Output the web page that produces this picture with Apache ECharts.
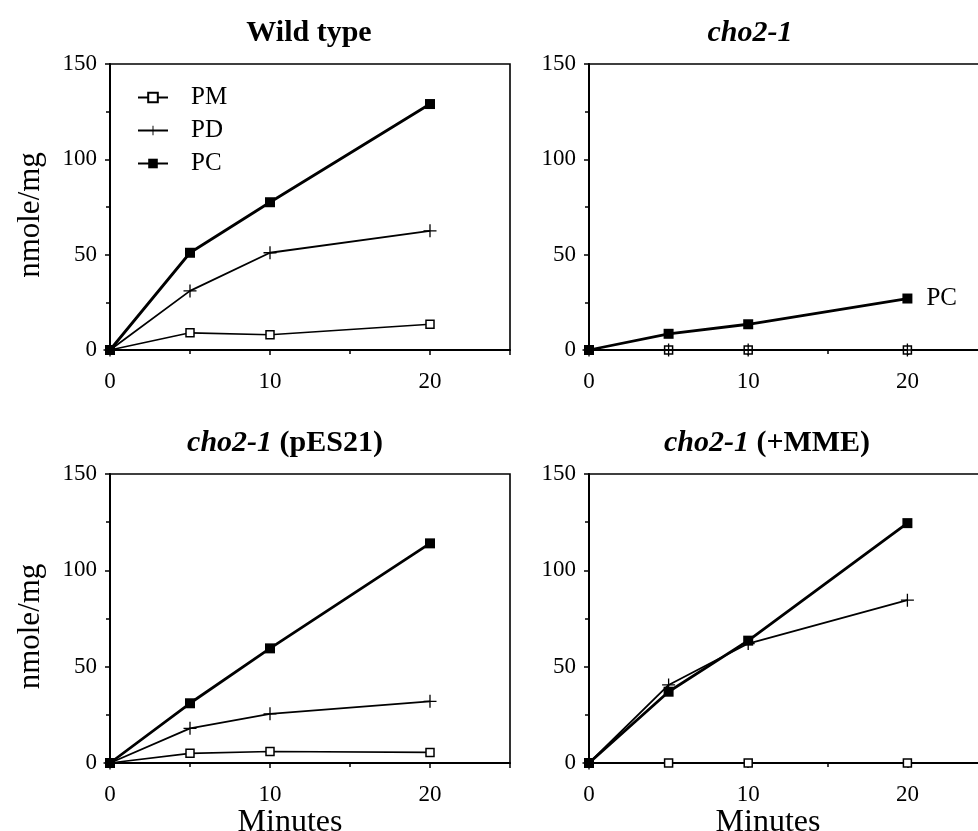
<!DOCTYPE html>
<html><head><meta charset="utf-8">
<script src="https://cdn.jsdelivr.net/npm/echarts@6/dist/echarts.min.js"></script>
<style>html,body{margin:0;padding:0;background:#fff}#c{width:978px;height:831px}</style>
</head><body><div id="c"></div>
<script>
const minutes = [0, 5, 10, 20];
const xTicks = [0, 10, 20];
const yTicks = [0, 50, 100, 150];
const seriesNames = ['PM', 'PD', 'PC'];
const panelTitles = ['Wild type', 'cho2-1', 'cho2-1 (pES21)', 'cho2-1 (+MME)'];

const wtPM = [0, 9, 8, 13.5];
const wtPD = [0, 31, 51, 62.5];
const wtPC = [0, 51, 77.5, 129];

const choPM = [0, 0, 0, 0];
const choPD = [0, 0, 0, 0];
const choPC = [0, 8.5, 13.5, 27];

const pesPM = [0, 5, 6, 5.5];
const pesPD = [0, 18, 25.5, 32];
const pesPC = [0, 31, 59.5, 114];

const mmePM = [0, 0, 0, 0];
const mmePD = [0, 40.5, 62, 84.5];
const mmePC = [0, 37, 63.5, 124.5];

const panels = [
  [wtPM, wtPD, wtPC],
  [choPM, choPD, choPC],
  [pesPM, pesPD, pesPC],
  [mmePM, mmePD, mmePC]
];

const FONT = '"Liberation Serif", "Times New Roman", serif';
const plusPath = 'path://M9,0H11V9H20V11H11V20H9V11H0V9H9Z';

const grids = [
  {left: 110, top: 64, width: 400, height: 286},
  {left: 589, top: 64, width: 398, height: 286},
  {left: 110, top: 474, width: 400, height: 289},
  {left: 589, top: 474, width: 398, height: 289}
].map(g => Object.assign(g, {show: true, borderColor: '#000', borderWidth: 1.6, backgroundColor: 'transparent',
  containLabel: false, outerBoundsMode: 'none'}));

const xAxes = grids.map((g, i) => ({
  type: 'value', gridIndex: i, min: 0, max: 25, interval: 10,
  axisLine: {show: true, onZero: false, lineStyle: {color: '#000', width: 2}},
  axisTick: {show: true, length: 5, lineStyle: {color: '#000', width: 1.5}},
  minorTick: {show: true, splitNumber: 2, length: 4, lineStyle: {color: '#000', width: 1.5}},
  splitLine: {show: false}, minorSplitLine: {show: false},
  axisLabel: {color: '#000', fontFamily: FONT, fontSize: 23, margin: 20,
    formatter: v => xTicks.includes(v) ? String(v) : ''},
  name: i >= 2 ? 'Minutes' : '', nameLocation: 'middle', nameGap: 38,
  nameTextStyle: {color: '#000', fontFamily: FONT, fontSize: 32, padding: [0, 40, 0, 0]}
}));

const yAxes = grids.map((g, i) => ({
  type: 'value', gridIndex: i, min: 0, max: 150, interval: 50,
  axisLine: {show: true, lineStyle: {color: '#000', width: 2}},
  axisTick: {show: true, length: 5, lineStyle: {color: '#000', width: 1.5}},
  minorTick: {show: true, splitNumber: 2, length: 4, lineStyle: {color: '#000', width: 1.5}},
  splitLine: {show: false}, minorSplitLine: {show: false},
  axisLabel: {color: '#000', fontFamily: FONT, fontSize: 23, margin: 13,
    formatter: v => yTicks.includes(v) ? String(v) : ''},
  name: (i % 2 === 0) ? 'nmole/mg' : '', nameLocation: 'middle', nameGap: 64,
  nameTextStyle: {color: '#000', fontFamily: FONT, fontSize: 31, padding: [0, 16, 0, 0]}
}));

const styles = [
  {symbol: 'rect', symbolSize: 8, itemStyle: {color: '#fff', borderColor: '#000', borderWidth: 1.5}, lineStyle: {color: '#000', width: 1.6}},
  {symbol: plusPath, symbolSize: 13, itemStyle: {color: '#000'}, lineStyle: {color: '#000', width: 1.8}},
  {symbol: 'rect', symbolSize: 10, itemStyle: {color: '#000'}, lineStyle: {color: '#000', width: 2.8}}
];

const series = [];
panels.forEach((vals, p) => {
  vals.forEach((arr, s) => {
    const data = minutes.map((m, k) => [m, arr[k]]);
    if (p === 1 && s === 2) {
      const last = data.length - 1;
      data[last] = {value: data[last], label: {show: true, formatter: 'PC', position: 'right', distance: 14,
        color: '#000', fontFamily: FONT, fontSize: 25}};
    }
    series.push(Object.assign({
      type: 'line', name: seriesNames[s], xAxisIndex: p, yAxisIndex: p,
      data: data, showAllSymbol: true, animation: false, z: 2 + s,
      emphasis: {disabled: true}
    }, JSON.parse(JSON.stringify(styles[s])), {symbol: styles[s].symbol}));
  });
});

const titleRich = {
  i: {fontFamily: FONT, fontSize: 30, fontWeight: 'bold', fontStyle: 'italic', color: '#000'},
  b: {fontFamily: FONT, fontSize: 30, fontWeight: 'bold', color: '#000'}
};
const titleText = t => {
  if (t.startsWith('cho2-1')) {
    const rest = t.slice(6);
    return '{i|cho2-1}' + (rest ? '{b|' + rest + '}' : '');
  }
  return '{b|' + t + '}';
};
const titlePos = [[309, 18], [750, 18], [285, 428], [767, 428]];
const titles = panelTitles.map((t, i) => ({
  text: titleText(t), left: titlePos[i][0], top: titlePos[i][1], textAlign: 'center', padding: 0,
  textStyle: {rich: titleRich, fontFamily: FONT, fontSize: 30, fontWeight: 'bold', color: '#000'}
}));

const chart = echarts.init(document.getElementById('c'), null, {renderer: 'canvas'});
chart.setOption({
  backgroundColor: '#fff',
  animation: false,
  title: titles,
  legend: {
    data: seriesNames, orient: 'vertical', left: 132, top: 80, itemWidth: 30, itemHeight: 12, itemGap: 8,
    textStyle: {color: '#000', fontFamily: FONT, fontSize: 25, padding: [0, 0, 0, 18]},
    selectedMode: false
  },
  grid: grids, xAxis: xAxes, yAxis: yAxes, series: series
});
</script></body></html>
